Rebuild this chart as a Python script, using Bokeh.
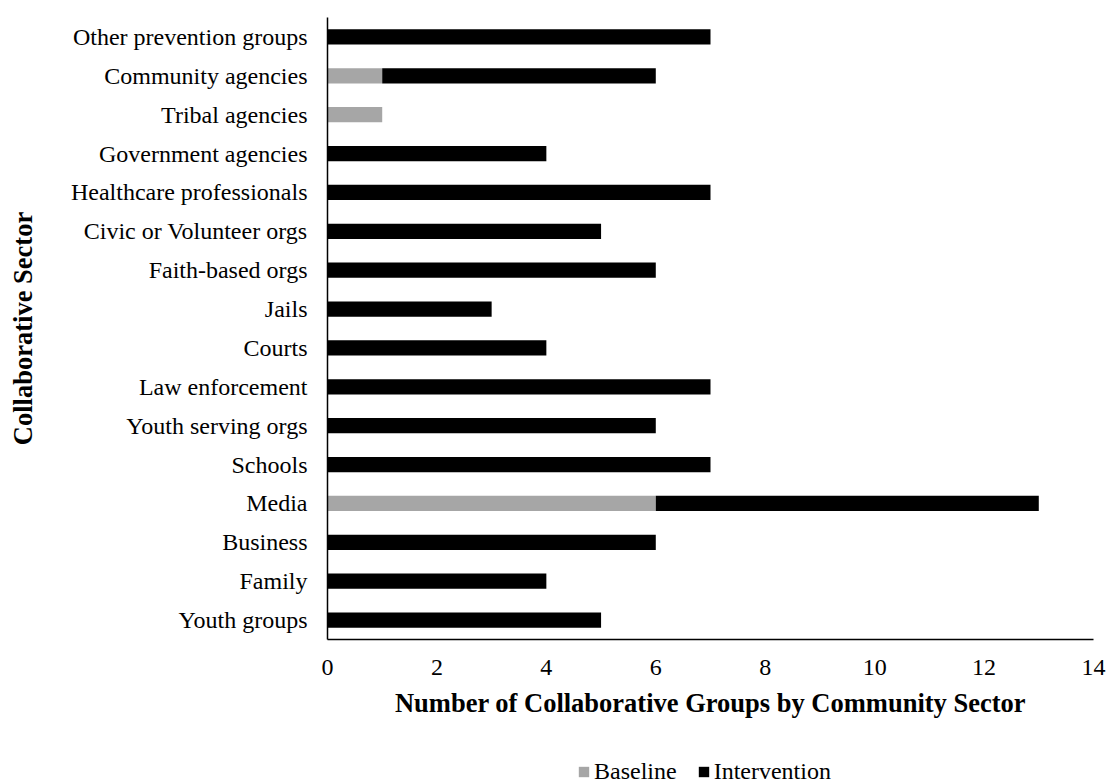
from bokeh.plotting import figure
from bokeh.layouts import column
from bokeh.models import Range1d, FactorRange, SingleIntervalTicker
from bokeh.embed import file_html
from bokeh.resources import INLINE

# Community sectors, listed bottom to top
sectors = [
    "Youth groups", "Family", "Business", "Media", "Schools",
    "Youth serving orgs", "Law enforcement", "Courts", "Jails",
    "Faith-based orgs", "Civic or Volunteer orgs", "Healthcare professionals",
    "Government agencies", "Tribal agencies", "Community agencies",
    "Other prevention groups",
]
baseline = [0, 0, 0, 6, 0, 0, 0, 0, 0, 0, 0, 0, 0, 1, 1, 0]
intervention = [5, 4, 6, 7, 7, 6, 7, 4, 3, 6, 5, 7, 4, 0, 5, 7]
series = ["Baseline", "Intervention"]
colors = ["#A6A6A6", "#000000"]

FONT = "Liberation Serif"

p = figure(
    width=1107, height=740,
    y_range=FactorRange(factors=sectors, range_padding=0),
    x_range=Range1d(0, 14),
    output_backend="svg", toolbar_location=None,
    min_border_left=327, min_border_right=14,
    min_border_top=17, min_border_bottom=101,
)

data = {"sector": sectors, "Baseline": baseline, "Intervention": intervention}
p.hbar_stack(series, y="sector", height=0.39, fill_color=colors,
             line_color=None, source=data)

p.outline_line_color = None
p.xgrid.grid_line_color = None
p.ygrid.grid_line_color = None

for ax in (p.xaxis[0], p.yaxis[0]):
    ax.axis_line_color = "black"
    ax.axis_line_width = 1.5
    ax.major_tick_line_color = None
    ax.minor_tick_line_color = None
    ax.major_tick_out = 0
    ax.major_tick_in = 0
    ax.major_label_text_font = FONT
    ax.major_label_text_font_size = "24px"
    ax.major_label_text_color = "black"
    ax.axis_label_text_font = FONT
    ax.axis_label_text_font_size = "26.5px"
    ax.axis_label_text_font_style = "bold"
    ax.axis_label_text_color = "black"

p.xaxis[0].ticker = SingleIntervalTicker(interval=2)
p.xaxis[0].major_label_standoff = 16
p.xaxis[0].axis_label = "Number of Collaborative Groups by Community Sector"
p.xaxis[0].axis_label_standoff = 10

p.yaxis[0].major_label_standoff = 20
p.yaxis[0].axis_label = "Collaborative Sector"
p.yaxis[0].axis_label_standoff = 30

# Legend strip underneath the chart (its frame lines up with the chart's)
leg = figure(
    width=1107, height=43,
    x_range=Range1d(0, 1), y_range=Range1d(0, 1),
    x_axis_type=None, y_axis_type=None,
    output_backend="svg", toolbar_location=None, min_border=0,
)
leg.outline_line_color = None
leg.xgrid.visible = False
leg.ygrid.visible = False
for name, col in zip(series, colors):
    # zero-width key bars, only there to supply the legend swatches
    leg.hbar(y=[0.5], left=[0], right=[0], height=0.5, fill_color=col,
             line_color=None, legend_label=name)

lg = leg.legend[0]
lg.orientation = "horizontal"
lg.location = (250, -2)
lg.background_fill_alpha = 0
lg.border_line_color = None
lg.padding = 0
lg.margin = 0
lg.spacing = 20
lg.glyph_width = 13
lg.glyph_height = 13
lg.label_standoff = 4
lg.label_text_font = FONT
lg.label_text_font_size = "24px"
lg.label_text_color = "black"

open("out.html", "w").write(file_html(column(p, leg), INLINE))
